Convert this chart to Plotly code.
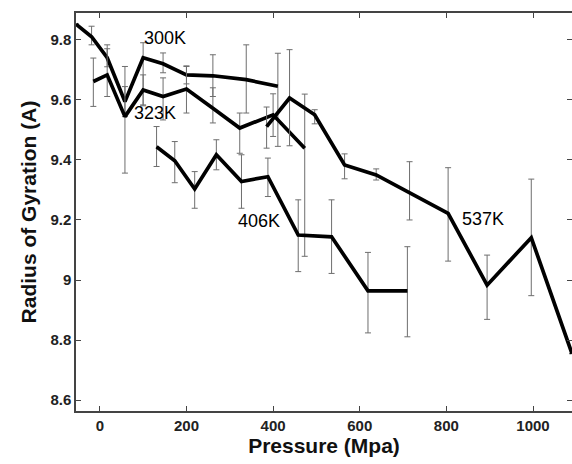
import plotly.graph_objects as go

# ---- data ----
p300 = [-55, -19, 17, 58, 100, 146, 200, 261, 338, 411]
r300 = [9.852, 9.81, 9.74, 9.594, 9.74, 9.72, 9.683, 9.68, 9.667, 9.645]
e300_up = [0, 0.035, 0.03, 0.05, 0.05, 0.036, 0.03, 0.07, 0.116, 0.11]
e300_dn = [0, 0.027, 0.03, 0.05, 0.16, 0.03, 0.03, 0.069, 0.111, 0.2]

p323 = [-15, 17, 58, 100, 146, 200, 261, 323, 400, 473]
r323 = [9.661, 9.683, 9.544, 9.633, 9.611, 9.636, 9.572, 9.506, 9.55, 9.439]
e323_up = [0.078, 0.1, 0.167, 0.05, 0.062, 0.075, 0.068, 0.05, 0.07, 0.18]
e323_dn = [0.083, 0.072, 0.188, 0.05, 0.078, 0.08, 0.049, 0.084, 0.072, 0.36]

p406 = [131, 173, 219, 269, 327, 388, 458, 535, 619, 710]
r406 = [9.444, 9.397, 9.303, 9.417, 9.328, 9.344, 9.15, 9.144, 8.964, 8.964]
e406_up = [0.067, 0.064, 0.058, 0.05, 0.089, 0.062, 0.117, 0.123, 0.128, 0.147]
e406_dn = [0.066, 0.073, 0.064, 0.05, 0.089, 0.066, 0.122, 0.122, 0.14, 0.153]

p537 = [385, 438, 496, 565, 638, 715, 804, 894, 996, 1090]
r537 = [9.511, 9.606, 9.55, 9.383, 9.35, 9.29, 9.222, 8.983, 9.141, 8.755]
e537_up = [0.065, 0.161, 0.017, 0.037, 0.02, 0.104, 0.152, 0.1, 0.195, 0]
e537_dn = [0.072, 0.159, 0.03, 0.046, 0.017, 0.09, 0.159, 0.114, 0.193, 0]

labels = ["300K", "323K", "406K", "537K"]
label_x = [150, 127, 367, 884]
label_y = [9.807, 9.557, 9.197, 9.203]

x_ticks = [0, 200, 400, 600, 800, 1000]
y_ticks = [8.6, 8.8, 9.0, 9.2, 9.4, 9.6, 9.8]
y_tick_text = ["8.6", "8.8", "9", "9.2", "9.4", "9.6", "9.8"]

fig = go.Figure()
series = [
    (p300, r300, e300_up, e300_dn),
    (p323, r323, e323_up, e323_dn),
    (p406, r406, e406_up, e406_dn),
    (p537, r537, e537_up, e537_dn),
]
for xs, ys, eu, ed in series:
    fig.add_trace(go.Scatter(
        x=xs, y=ys, mode="lines",
        line=dict(color="black", width=3.7),
        error_y=dict(type="data", symmetric=False, array=eu, arrayminus=ed,
                     color="#6e6e6e", thickness=1, width=3, visible=True),
        showlegend=False, cliponaxis=True, hoverinfo="skip",
    ))

for t, lx, ly in zip(labels, label_x, label_y):
    fig.add_annotation(x=lx, y=ly, text=t, showarrow=False,
                       font=dict(family="Liberation Sans, Arial", size=18, color="black"))

fig.update_layout(
    width=572, height=464,
    margin=dict(l=76, r=0, t=13, b=53),
    paper_bgcolor="white", plot_bgcolor="white",
    font=dict(family="Liberation Sans, Arial", color="black"),
)
fig.update_xaxes(
    range=[-55, 1090], tickvals=x_ticks, ticks="inside", ticklen=5, tickwidth=1,
    tickcolor="#444", showline=True, linecolor="#444", linewidth=1.5, mirror="ticks",
    showgrid=False, zeroline=False, automargin=False,
    tickfont=dict(family="Liberation Sans, Arial", size=15, color="#222", weight="bold"),
    title=dict(text="<b>Pressure (Mpa)</b>", font=dict(size=21, color="#111"), standoff=2),
)
fig.update_yaxes(
    range=[8.564, 9.889], tickvals=y_ticks, ticktext=y_tick_text, ticks="inside", ticklen=5,
    tickwidth=1, tickcolor="#444", showline=True, linecolor="#444", linewidth=1.5,
    mirror="ticks", showgrid=False, zeroline=False, automargin=False,
    tickfont=dict(family="Liberation Sans, Arial", size=15, color="#222", weight="bold"),
    title=dict(text="<b>Radius of Gyration (A)</b>", font=dict(size=21, color="#111"), standoff=8),
)
fig.write_html("out.html", config={"displayModeBar": False},
               post_script="document.body.style.margin='0';document.body.style.overflow='hidden';")
